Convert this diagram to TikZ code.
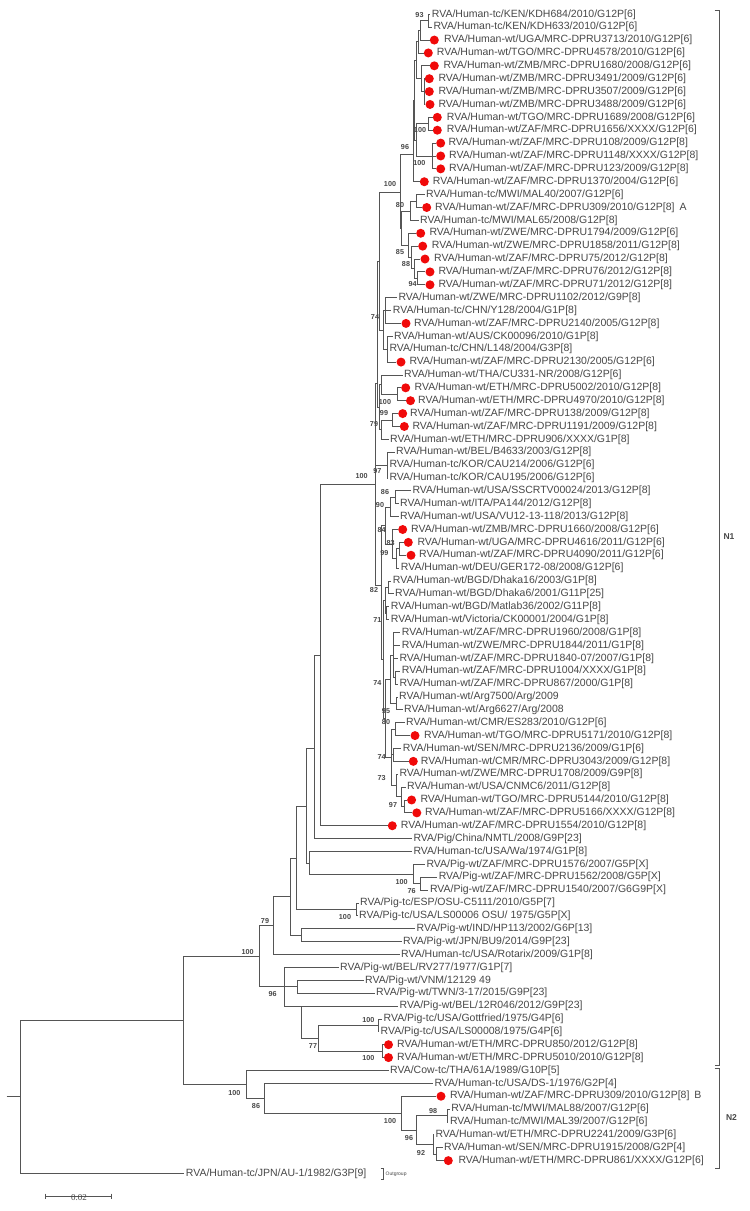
\documentclass[tikz,border=0pt]{standalone}
\usepackage{fontspec}
\setmainfont{Liberation Sans}
\newfontfamily\scalefont{Liberation Serif}
\definecolor{ln}{RGB}{85,85,85}
\definecolor{tx}{RGB}{72,72,72}
\definecolor{rd}{RGB}{240,10,10}
\tikzset{
 br/.style={draw=ln, line width=0.85pt},
 lab/.style={anchor=west, inner xsep=1.5pt, inner ysep=0pt, text=tx, font=\fontsize{10.5}{12}\selectfont},
 reddot/.style={circle, fill=rd, minimum size=9pt, inner sep=0pt},
 bs/.style={inner sep=0pt, text=tx, font=\bfseries\fontsize{7.2}{8}\selectfont},
 grp/.style={inner sep=0pt, text=tx, font=\bfseries\fontsize{8.5}{9}\selectfont},
}
\newcommand\pleaf[3]{\node[lab] (l#1) at ({#2-1.5},{14.3+12.88*(#1-1)}) {#3};}
\newcommand\dleaf[4]{\node[reddot] (l#1) at (#2,{14.3+12.88*(#1-1)}) {};
  \node[lab] (t#1) at ({#3-1.5},{14.3+12.88*(#1-1)}) {#4};}
\newcommand\kids[2]{\foreach \kid in {#2}{\draw[br] (#1) |- (\kid);}}
\begin{document}
\begin{tikzpicture}[x=1pt,y=-1pt]
\fill[white] (0,0) rectangle (750,1211);
\useasboundingbox (0,0) rectangle (750,1211);
% ---------------- leaves
\pleaf{1}{431.7}{RVA/Human-tc/KEN/KDH684/2010/G12P[6]}
\pleaf{2}{433.3}{RVA/Human-tc/KEN/KDH633/2010/G12P[6]}
\dleaf{3}{434.3}{444}{RVA/Human-wt/UGA/MRC-DPRU3713/2010/G12P[6]}
\dleaf{4}{428.3}{436.7}{RVA/Human-wt/TGO/MRC-DPRU4578/2010/G12P[6]}
\dleaf{5}{434.3}{443.3}{RVA/Human-wt/ZMB/MRC-DPRU1680/2008/G12P[6]}
\dleaf{6}{429.3}{438.3}{RVA/Human-wt/ZMB/MRC-DPRU3491/2009/G12P[6]}
\dleaf{7}{429.3}{438.3}{RVA/Human-wt/ZMB/MRC-DPRU3507/2009/G12P[6]}
\dleaf{8}{430}{438.3}{RVA/Human-wt/ZMB/MRC-DPRU3488/2009/G12P[6]}
\dleaf{9}{437.3}{446.7}{RVA/Human-wt/TGO/MRC-DPRU1689/2008/G12P[6]}
\dleaf{10}{437.3}{446.7}{RVA/Human-wt/ZAF/MRC-DPRU1656/XXXX/G12P[6]}
\dleaf{11}{440.7}{448.3}{RVA/Human-wt/ZAF/MRC-DPRU108/2009/G12P[8]}
\dleaf{12}{440.7}{449}{RVA/Human-wt/ZAF/MRC-DPRU1148/XXXX/G12P[8]}
\dleaf{13}{440.7}{449}{RVA/Human-wt/ZAF/MRC-DPRU123/2009/G12P[8]}
\dleaf{14}{424.3}{432.7}{RVA/Human-wt/ZAF/MRC-DPRU1370/2004/G12P[6]}
\pleaf{15}{426}{RVA/Human-tc/MWI/MAL40/2007/G12P[6]}
\dleaf{16}{426.7}{435}{RVA/Human-wt/ZAF/MRC-DPRU309/2010/G12P[8]\hspace{5pt}A}
\pleaf{17}{420}{RVA/Human-tc/MWI/MAL65/2008/G12P[8]}
\dleaf{18}{420.7}{429.3}{RVA/Human-wt/ZWE/MRC-DPRU1794/2009/G12P[6]}
\dleaf{19}{422.7}{431.7}{RVA/Human-wt/ZWE/MRC-DPRU1858/2011/G12P[8]}
\dleaf{20}{425}{434}{RVA/Human-wt/ZAF/MRC-DPRU75/2012/G12P[8]}
\dleaf{21}{430}{438.3}{RVA/Human-wt/ZAF/MRC-DPRU76/2012/G12P[8]}
\dleaf{22}{430}{438.3}{RVA/Human-wt/ZAF/MRC-DPRU71/2012/G12P[8]}
\pleaf{23}{398.3}{RVA/Human-wt/ZWE/MRC-DPRU1102/2012/G9P[8]}
\pleaf{24}{392.7}{RVA/Human-tc/CHN/Y128/2004/G1P[8]}
\dleaf{25}{406}{414}{RVA/Human-wt/ZAF/MRC-DPRU2140/2005/G12P[8]}
\pleaf{26}{394}{RVA/Human-wt/AUS/CK00096/2010/G1P[8]}
\pleaf{27}{389.3}{RVA/Human-tc/CHN/L148/2004/G3P[8]}
\dleaf{28}{401}{409.3}{RVA/Human-wt/ZAF/MRC-DPRU2130/2005/G12P[6]}
\pleaf{29}{404}{RVA/Human-wt/THA/CU331-NR/2008/G12P[6]}
\dleaf{30}{405.7}{414.5}{RVA/Human-wt/ETH/MRC-DPRU5002/2010/G12P[8]}
\dleaf{31}{410.5}{418}{RVA/Human-wt/ETH/MRC-DPRU4970/2010/G12P[8]}
\dleaf{32}{402.7}{410}{RVA/Human-wt/ZAF/MRC-DPRU138/2009/G12P[8]}
\dleaf{33}{404.3}{412.3}{RVA/Human-wt/ZAF/MRC-DPRU1191/2009/G12P[8]}
\pleaf{34}{390}{RVA/Human-wt/ETH/MRC-DPRU906/XXXX/G1P[8]}
\pleaf{35}{396}{RVA/Human-wt/BEL/B4633/2003/G12P[8]}
\pleaf{36}{389.3}{RVA/Human-tc/KOR/CAU214/2006/G12P[6]}
\pleaf{37}{389.3}{RVA/Human-tc/KOR/CAU195/2006/G12P[6]}
\pleaf{38}{412.3}{RVA/Human-wt/USA/SSCRTV00024/2013/G12P[8]}
\pleaf{39}{400}{RVA/Human-wt/ITA/PA144/2012/G12P[8]}
\pleaf{40}{400}{RVA/Human-wt/USA/VU12-13-118/2013/G12P[8]}
\dleaf{41}{402.7}{411}{RVA/Human-wt/ZMB/MRC-DPRU1660/2008/G12P[6]}
\dleaf{42}{408.3}{417.3}{RVA/Human-wt/UGA/MRC-DPRU4616/2011/G12P[6]}
\dleaf{43}{411}{419}{RVA/Human-wt/ZAF/MRC-DPRU4090/2011/G12P[6]}
\pleaf{44}{400.7}{RVA/Human-wt/DEU/GER172-08/2008/G12P[6]}
\pleaf{45}{392.7}{RVA/Human-wt/BGD/Dhaka16/2003/G1P[8]}
\pleaf{46}{395}{RVA/Human-wt/BGD/Dhaka6/2001/G11P[25]}
\pleaf{47}{390.7}{RVA/Human-wt/BGD/Matlab36/2002/G11P[8]}
\pleaf{48}{390.7}{RVA/Human-wt/Victoria/CK00001/2004/G1P[8]}
\pleaf{49}{401.7}{RVA/Human-wt/ZAF/MRC-DPRU1960/2008/G1P[8]}
\pleaf{50}{401.7}{RVA/Human-wt/ZWE/MRC-DPRU1844/2011/G1P[8]}
\pleaf{51}{399.3}{RVA/Human-wt/ZAF/MRC-DPRU1840-07/2007/G1P[8]}
\pleaf{52}{401.7}{RVA/Human-wt/ZAF/MRC-DPRU1004/XXXX/G1P[8]}
\pleaf{53}{399.3}{RVA/Human-wt/ZAF/MRC-DPRU867/2000/G1P[8]}
\pleaf{54}{399}{RVA/Human-wt/Arg7500/Arg/2009}
\pleaf{55}{404}{RVA/Human-wt/Arg6627/Arg/2008}
\pleaf{56}{406}{RVA/Human-wt/CMR/ES283/2010/G12P[6]}
\dleaf{57}{415}{424}{RVA/Human-wt/TGO/MRC-DPRU5171/2010/G12P[8]}
\pleaf{58}{402.7}{RVA/Human-wt/SEN/MRC-DPRU2136/2009/G1P[6]}
\dleaf{59}{413.3}{420.7}{RVA/Human-wt/CMR/MRC-DPRU3043/2009/G12P[8]}
\pleaf{60}{399.3}{RVA/Human-wt/ZWE/MRC-DPRU1708/2009/G9P[8]}
\pleaf{61}{407}{RVA/Human-wt/USA/CNMC6/2011/G12P[8]}
\dleaf{62}{411.6}{420.4}{RVA/Human-wt/TGO/MRC-DPRU5144/2010/G12P[8]}
\dleaf{63}{416.8}{425}{RVA/Human-wt/ZAF/MRC-DPRU5166/XXXX/G12P[8]}
\dleaf{64}{392.3}{400.7}{RVA/Human-wt/ZAF/MRC-DPRU1554/2010/G12P[8]}
\pleaf{65}{413.3}{RVA/Pig/China/NMTL/2008/G9P[23]}
\pleaf{66}{413.3}{RVA/Human-tc/USA/Wa/1974/G1P[8]}
\pleaf{67}{426.3}{RVA/Pig-wt/ZAF/MRC-DPRU1576/2007/G5P[X]}
\pleaf{68}{438.6}{RVA/Pig-wt/ZAF/MRC-DPRU1562/2008/G5P[X]}
\pleaf{69}{429.8}{RVA/Pig-wt/ZAF/MRC-DPRU1540/2007/G6G9P[X]}
\pleaf{70}{360}{RVA/Pig-tc/ESP/OSU-C5111/2010/G5P[7]}
\pleaf{71}{359}{RVA/Pig-tc/USA/LS00006 OSU/ 1975/G5P[X]}
\pleaf{72}{416.5}{RVA/Pig-wt/IND/HP113/2002/G6P[13]}
\pleaf{73}{403}{RVA/Pig-wt/JPN/BU9/2014/G9P[23]}
\pleaf{74}{401}{RVA/Human-tc/USA/Rotarix/2009/G1P[8]}
\pleaf{75}{340}{RVA/Pig-wt/BEL/RV277/1977/G1P[7]}
\pleaf{76}{365}{RVA/Pig-wt/VNM/12129 49}
\pleaf{77}{376}{RVA/Pig-wt/TWN/3-17/2015/G9P[23]}
\pleaf{78}{399.5}{RVA/Pig-wt/BEL/12R046/2012/G9P[23]}
\pleaf{79}{383.5}{RVA/Pig-tc/USA/Gottfried/1975/G4P[6]}
\pleaf{80}{380.5}{RVA/Pig-tc/USA/LS00008/1975/G4P[6]}
\dleaf{81}{388.5}{397}{RVA/Human-wt/ETH/MRC-DPRU850/2012/G12P[8]}
\dleaf{82}{388.5}{397}{RVA/Human-wt/ETH/MRC-DPRU5010/2010/G12P[8]}
\pleaf{83}{390}{RVA/Cow-tc/THA/61A/1989/G10P[5]}
\pleaf{84}{434.4}{RVA/Human-tc/USA/DS-1/1976/G2P[4]}
\dleaf{85}{441}{449.8}{RVA/Human-wt/ZAF/MRC-DPRU309/2010/G12P[8]\hspace{5pt}B}
\pleaf{86}{451.2}{RVA/Human-tc/MWI/MAL88/2007/G12P[6]}
\pleaf{87}{449.8}{RVA/Human-tc/MWI/MAL39/2007/G12P[6]}
\pleaf{88}{435.4}{RVA/Human-wt/ETH/MRC-DPRU2241/2009/G3P[6]}
\pleaf{89}{444}{RVA/Human-wt/SEN/MRC-DPRU1915/2008/G2P[4]}
\dleaf{90}{448.3}{458.4}{RVA/Human-wt/ETH/MRC-DPRU861/XXXX/G12P[6]}
\pleaf{91}{185.7}{RVA/Human-tc/JPN/AU-1/1982/G3P[9]}
% ---------------- internal nodes
\coordinate (K) at (428.3,20.7);
\coordinate (K2) at (420.7,30.4);
\coordinate (M1) at (418.5,41.7);
\coordinate (Z1) at (424,91.6);
\coordinate (Z2) at (421.5,78.7);
\coordinate (M2) at (416.5,60);
\coordinate (N910) at (428,123.8);
\coordinate (N1113) at (432,156);
\coordinate (N913) at (416,140);
\coordinate (M3) at (414.5,100);
\coordinate (N96t) at (413,154);
\coordinate (Q80a) at (416.5,201);
\coordinate (Q80) at (410,211);
\coordinate (R94) at (417,278.3);
\coordinate (R88) at (414,268.7);
\coordinate (R85) at (411,257.4);
\coordinate (R0) at (408,245.3);
\coordinate (S) at (401.7,228);
\coordinate (P400) at (400,192.7);
\coordinate (T1) at (385.5,310.5);
\coordinate (T2) at (387,349.2);
\coordinate (T) at (383,330);
\coordinate (U1) at (379.5,261);
\coordinate (E100) at (397,394.3);
\coordinate (V1) at (381.5,384.6);
\coordinate (N99) at (392.5,420);
\coordinate (N79b) at (381.7,429.7);
\coordinate (V) at (379.5,407);
\coordinate (U2) at (377.5,383);
\coordinate (N97) at (387.3,465.1);
\coordinate (H) at (375,484);
\coordinate (N86) at (395,497.3);
\coordinate (N90) at (390,507);
\coordinate (N83) at (399.3,548.8);
\coordinate (N99b) at (396.7,558.5);
\coordinate (N84) at (392,544);
\coordinate (L1) at (385,525.5);
\coordinate (D1) at (388.5,587.5);
\coordinate (D2) at (386.5,613.2);
\coordinate (D) at (385.5,600.3);
\coordinate (Z5) at (395.5,677.6);
\coordinate (Z4) at (393.3,655);
\coordinate (N95) at (396,703.4);
\coordinate (ZA) at (390,679.2);
\coordinate (N80b) at (395,729.1);
\coordinate (N74c) at (393.3,754.9);
\coordinate (N97b) at (404,806.4);
\coordinate (C61) at (401,796.8);
\coordinate (N73) at (396,785.5);
\coordinate (CB) at (391,757.3);
\coordinate (L2b) at (385,718.2);
\coordinate (L2) at (383.5,659.3);
\coordinate (L) at (381.7,585);
\coordinate (A1) at (320.7,655);
\coordinate (A2) at (314,748);
\coordinate (WP) at (309.3,863);
\coordinate (PigX) at (413.3,874);
\coordinate (P2) at (420,883.7);
\coordinate (A3) at (306,806.7);
\coordinate (ESPUSA) at (356.7,909.5);
\coordinate (U) at (296.7,858);
\coordinate (INDJPN) at (301,935.2);
\coordinate (W) at (290,896.5);
\coordinate (N79) at (273.3,925.5);
\coordinate (R) at (297.6,986.7);
\coordinate (G) at (378,1025.4);
\coordinate (E) at (382.8,1051.1);
\coordinate (F) at (318,1038.3);
\coordinate (Tp) at (301.4,1006.06);
\coordinate (N96) at (284,986.7);
\coordinate (N100) at (259.3,956.1);
\coordinate (NH) at (436.8,1154.2);
\coordinate (NG) at (433,1144.5);
\coordinate (NM) at (447.4,1115.5);
\coordinate (NF) at (416.3,1130);
\coordinate (NE) at (401,1113.1);
\coordinate (ND) at (264.6,1098.2);
\coordinate (NC) at (246.4,1084.3);
\coordinate (N183) at (183.3,1020.2);
\coordinate (Root) at (20,1096.9);
\coordinate (stub) at (6.7,1096.9);
% ---------------- branches
\kids{K}{l1,l2}
\kids{K2}{K,l3}
\kids{M1}{K2,l4}
\kids{Z1}{l6,l7,l8}
\kids{Z2}{l5,Z1}
\kids{M2}{M1,Z2}
\kids{N910}{l9,l10}
\kids{N1113}{l11,l12,l13}
\kids{N913}{N910,N1113}
\kids{M3}{M2,N913}
\kids{N96t}{M3,l14}
\kids{Q80a}{l15,l16}
\kids{Q80}{Q80a,l17}
\kids{R94}{l21,l22}
\kids{R88}{l20,R94}
\kids{R85}{l19,R88}
\kids{R0}{l18,R85}
\kids{S}{Q80,R0}
\kids{P400}{N96t,S}
\kids{T1}{l23,l24,l25}
\kids{T2}{l26,l27,l28}
\kids{T}{T1,T2}
\kids{U1}{P400,T}
\kids{E100}{l30,l31}
\kids{V1}{l29,E100}
\kids{N99}{l32,l33}
\kids{N79b}{N99,l34}
\kids{V}{V1,N79b}
\kids{U2}{U1,V}
\kids{N97}{l35,l36,l37}
\kids{H}{U2,N97,L}
\kids{N86}{l38,l39}
\kids{N90}{N86,l40}
\kids{N83}{l42,l43}
\kids{N99b}{N83,l44}
\kids{N84}{l41,N99b}
\kids{L1}{N90,N84}
\kids{D1}{l45,l46}
\kids{D2}{l47,l48}
\kids{D}{D1,D2}
\kids{Z5}{l52,l53}
\kids{Z4}{l49,l50,l51,Z5}
\kids{N95}{l54,l55}
\kids{ZA}{Z4,N95}
\kids{N80b}{l56,l57}
\kids{N74c}{l58,l59}
\kids{N97b}{l62,l63}
\kids{C61}{l61,N97b}
\kids{N73}{l60,C61}
\kids{CB}{N80b,N74c,N73}
\kids{L2b}{ZA,CB}
\kids{L2}{D,L2b}
\kids{L}{L1,L2}
\kids{A1}{H,l64}
\kids{A2}{A1,l65}
\kids{P2}{l68,l69}
\kids{PigX}{l67,P2}
\kids{WP}{l66,PigX}
\kids{A3}{A2,WP}
\kids{ESPUSA}{l70,l71}
\kids{U}{A3,ESPUSA}
\kids{INDJPN}{l72,l73}
\kids{W}{U,INDJPN}
\kids{N79}{W,l74}
\kids{R}{l76,l77}
\kids{G}{l79,l80}
\kids{E}{l81,l82}
\kids{F}{G,E}
\kids{Tp}{l78,F}
\kids{N96}{l75,R,Tp}
\kids{N100}{N79,N96}
\kids{NH}{l89,l90}
\kids{NG}{l88,NH}
\kids{NM}{l86,l87}
\kids{NF}{NM,NG}
\kids{NE}{l85,NF}
\kids{ND}{l84,NE}
\kids{NC}{l83,ND}
\kids{N183}{N100,NC}
\kids{Root}{N183,l91}
\draw[br] (stub) -- (Root);
% ---------------- bootstrap values
\foreach \px/\py/\v [count=\i] in {
 419.5/15/93, 420/130/100, 419.3/162.7/100, 405/146.7/96, 390/184/100,
 400/205/80, 400/251.7/85, 406/264.3/88, 412.7/284.3/94, 375/317.5/74,
 385/401.7/100, 384/413.5/99, 374/424.3/79, 361.7/476/100, 377.3/471/97,
 385/491.7/86, 380/505/90, 381.7/530/84, 390.7/543.3/83, 384.3/553.3/99,
 374/590/82, 377.3/620/71, 377.3/683.3/74, 386/711/95, 386/722.3/80,
 381.7/756.7/74, 381.7/777.7/73, 393/805/97, 401.7/881.7/100, 411.7/891/76,
 345/916.7/100, 265/920.7/79, 247.7/951.7/100, 272.7/994/96, 368.4/1020/100,
 313/1045.7/77, 368.4/1058.3/100, 234.4/1093.3/100, 256/1106/86, 390/1120.7/100,
 433/1111/98, 409/1138.3/96, 421/1152.7/92}
 {\node[bs] (bs\i) at (\px,\py) {\v};}
% ---------------- group brackets
\draw[br] (714.5,10) -- (719.5,10) -- (719.5,1065) -- (714.5,1065);
\draw[br] (714.5,1068) -- (719.5,1068) -- (719.5,1168) -- (714.5,1168);
\node[grp] (n1lab) at (729,537) {N1};
\node[grp] (n2lab) at (731.5,1117.7) {N2};
% outgroup mark
\draw[br, line width=0.6pt] (380.5,1168.5) -- (383,1168.5) -- (383,1179) -- (380.5,1179);
\node[anchor=west, inner sep=0pt, text=tx, font=\fontsize{5}{6}\selectfont] (og) at (385.5,1174) {Outgroup};
% scale bar
\draw[br, line width=0.7pt] (45,1196) -- (111,1196);
\draw[br, line width=0.7pt] (45,1193.5) -- (45,1198.5);
\draw[br, line width=0.7pt] (111,1193.5) -- (111,1198.5);
\node[inner sep=0pt, text=tx, font=\scalefont\fontsize{9}{10}\selectfont] (sbl) at (79,1198) {0.02};
\end{tikzpicture}
\end{document}
